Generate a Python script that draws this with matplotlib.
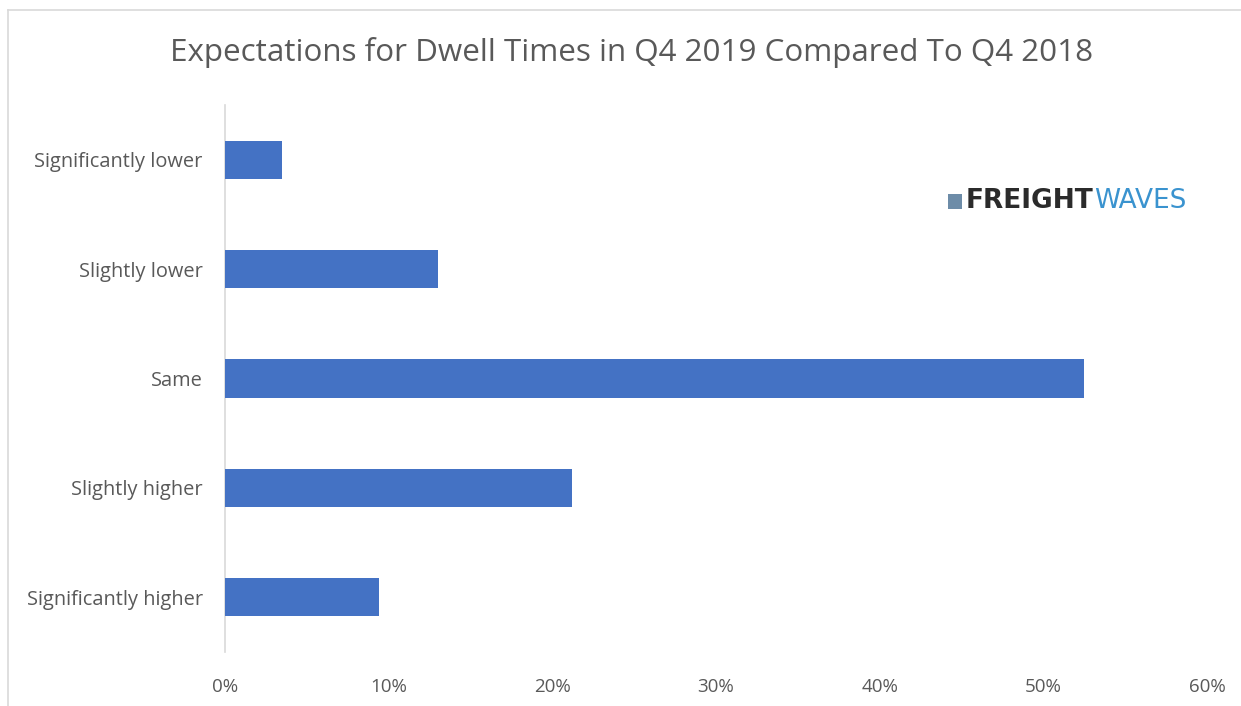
import matplotlib
matplotlib.use("Agg")
import matplotlib.pyplot as plt
from matplotlib.patches import Rectangle
from matplotlib.lines import Line2D
from matplotlib.ticker import PercentFormatter

categories = ["Significantly higher", "Slightly higher", "Same", "Slightly lower", "Significantly lower"]
values = [9.4, 21.2, 52.5, 13.0, 3.5]
xticks = [0, 10, 20, 30, 40, 50, 60]
title = "Expectations for Dwell Times in Q4 2019 Compared To Q4 2018"

W, H = 1241, 706
fig = plt.figure(figsize=(W / 100, H / 100), dpi=100)
fig.patch.set_facecolor("white")

# chart border (top and left visible)
fig.add_artist(Line2D([8 / W, 8 / W], [0, 1 - 10 / H], color="#d9d9d9", lw=1.2, transform=fig.transFigure))
fig.add_artist(Line2D([8 / W, 1], [1 - 10 / H, 1 - 10 / H], color="#d9d9d9", lw=1.2, transform=fig.transFigure))

ax_l, ax_r, ax_t, ax_b = 225, 1207, 105, 652
ax = fig.add_axes([ax_l / W, 1 - ax_b / H, (ax_r - ax_l) / W, (ax_b - ax_t) / H])

font = "Open Sans"
ax.barh(range(len(categories)), values, height=0.35, color="#4472C4", zorder=3)
ax.set_xlim(0, 60)
ax.set_ylim(-0.5, len(categories) - 0.5)
ax.set_xticks(xticks)
ax.xaxis.set_major_formatter(PercentFormatter(decimals=0))
ax.set_yticks(range(len(categories)))
ax.set_yticklabels(categories)

for s in ["top", "right", "bottom"]:
    ax.spines[s].set_visible(False)
ax.spines["left"].set_color("#d9d9d9")
ax.spines["left"].set_linewidth(1.2)
ax.tick_params(axis="both", length=0, colors="#595959")
ax.tick_params(axis="x", pad=19, labelsize=13.5)
ax.tick_params(axis="y", pad=16, labelsize=14.4)
for lab in ax.get_xticklabels() + ax.get_yticklabels():
    lab.set_fontfamily(font)
    lab.set_color("#595959")

fig.text(632 / W, 1 - 52 / H, title, ha="center", va="center", fontsize=22.6,
         color="#595959", fontfamily=font)

# logo
fig.add_artist(Rectangle((948 / W, 1 - 209 / H), 14 / W, 15 / H, transform=fig.transFigure,
                         facecolor="#6d8ca8", edgecolor="none"))
t1 = fig.text(966 / W, 1 - 201 / H, "FREIGHT", ha="left", va="center", fontsize=19,
              fontweight="heavy", color="#2b2b2b", fontfamily="DejaVu Sans")
fig.canvas.draw()
bb = t1.get_window_extent()
fig.text(bb.x1 / W, 1 - 201 / H, "WAVES", ha="left", va="center", fontsize=19,
         color="#3a93cf", fontfamily="DejaVu Sans")

fig.savefig("out.png", dpi=100, facecolor="white")
